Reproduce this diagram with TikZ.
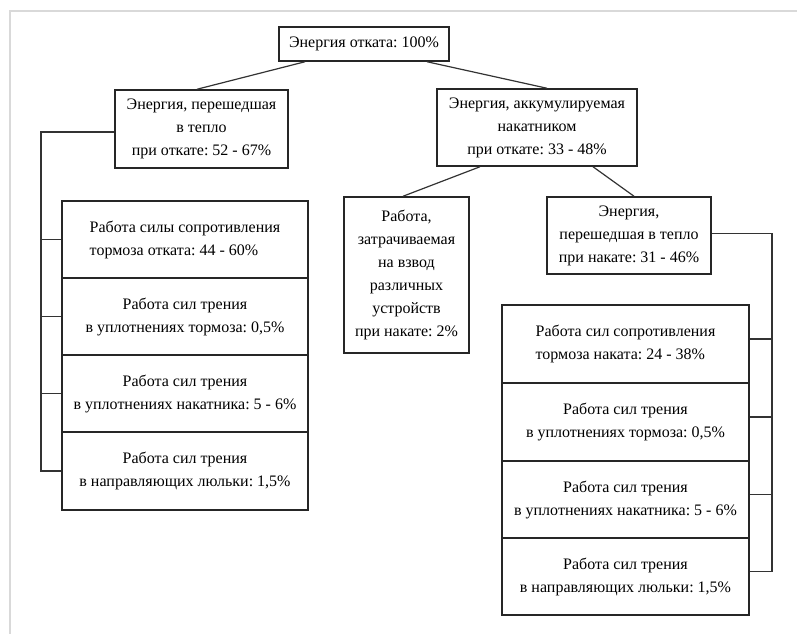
\documentclass[tikz,border=0pt]{standalone}
\usepackage{fontspec}
\setmainfont{Liberation Serif}
\usetikzlibrary{calc}
\frenchspacing

\begin{document}
\begin{tikzpicture}[x=1pt,y=-1pt,
	blk/.style={draw=black!85,line width=1.5pt,inner sep=0pt,align=center,
		text=black,font=\fontsize{16}{23}\selectfont},
	lnk/.style={black!80,line width=1.2pt}]
	\useasboundingbox (0,0) rectangle (797,634);
	% outer frame
	\draw[black!15,line width=2pt] (797,11) -- (10,11) -- (10,634);

	\node[blk,minimum width=170pt,minimum height=34pt] (root) at (364,44) {Энергия отката: 100\%};
	\node[blk,minimum width=173pt,minimum height=78pt] (heatL) at (201.5,129)
		{Энергия, перешедшая\\в тепло\\при откате: 52 - 67\%};
	\node[blk,minimum width=200pt,minimum height=77pt] (accum) at (537,127.5)
		{Энергия, аккумулируемая\\накатником\\при откате: 33 - 48\%};
	\node[blk,minimum width=125pt,minimum height=156pt] (work) at (406.5,275)
		{Работа,\\затрачиваемая\\на взвод\\различных\\устройств\\при накате: 2\%};
	\node[blk,minimum width=164pt,minimum height=77pt] (heatR) at (629,235.5)
		{Энергия,\\перешедшая в тепло\\при накате: 31 - 46\%};

	% left column
	\node[blk,align=left,minimum width=246pt,minimum height=77pt] (l1) at (185,239.5)
		{Работа силы сопротивления\\тормоза отката: 44 - 60\%};
	\node[blk,minimum width=246pt,minimum height=77pt] (l2) at (185,316.5)
		{Работа сил трения\\в уплотнениях тормоза: 0,5\%};
	\node[blk,minimum width=246pt,minimum height=77pt] (l3) at (185,393.5)
		{Работа сил трения\\в уплотнениях накатника: 5 - 6\%};
	\node[blk,minimum width=246pt,minimum height=78pt] (l4) at (185,471)
		{Работа сил трения\\в направляющих люльки: 1,5\%};

	% right column
	\node[blk,align=left,minimum width=247pt,minimum height=78pt] (r1) at (625.5,344)
		{Работа сил сопротивления\\тормоза наката: 24 - 38\%};
	\node[blk,minimum width=247pt,minimum height=78pt] (r2) at (625.5,422)
		{Работа сил трения\\в уплотнениях тормоза: 0,5\%};
	\node[blk,minimum width=247pt,minimum height=77pt] (r3) at (625.5,499.5)
		{Работа сил трения\\в уплотнениях накатника: 5 - 6\%};
	\node[blk,minimum width=247pt,minimum height=77pt] (r4) at (625.5,576.5)
		{Работа сил трения\\в направляющих люльки: 1,5\%};

	% tree links
	\draw[lnk] ([xshift=-59pt]root.south) -- ([xshift=-4.5pt]heatL.north);
	\draw[lnk] ([xshift=63pt]root.south) -- ([xshift=10pt]accum.north);
	\draw[lnk] ([xshift=-57pt]accum.south) -- ([xshift=-3.5pt]work.north);
	\draw[lnk] ([xshift=56pt]accum.south) -- ([xshift=5pt]heatR.north);

	% buses
	\coordinate (busL) at (41,0);
	\coordinate (busR) at (772,0);
	\draw[lnk] ([yshift=-3pt]heatL.west) -| (busL |- l4.west) -- (l4.west);
	\foreach \i in {1,2,3}
		\draw[lnk] (l\i.west) -- (busL |- l\i.west);
	\foreach \i in {1,...,4}
		\coordinate (t\i) at ([yshift=5pt]r\i.east);
	\draw[lnk] ([yshift=2pt]heatR.east) -| (busR |- t4) -- (t4);
	\foreach \i in {1,2,3}
		\draw[lnk] (t\i) -- (busR |- t\i);
\end{tikzpicture}
\end{document}
